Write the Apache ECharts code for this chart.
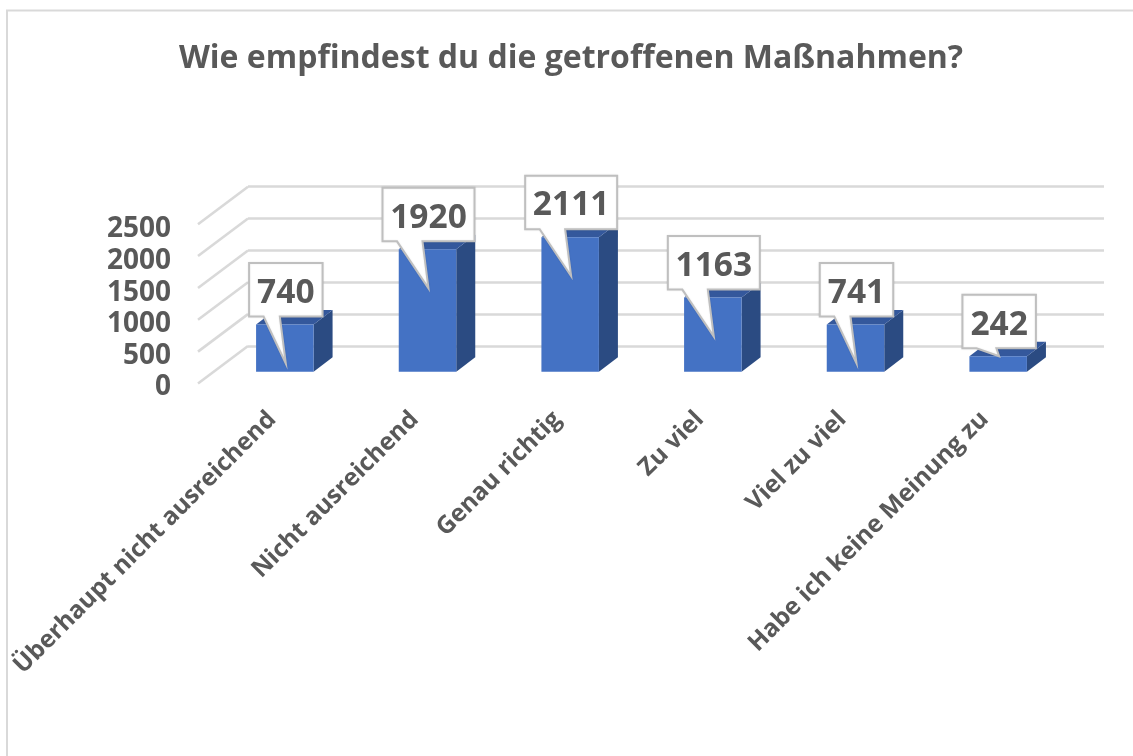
<!DOCTYPE html>
<html>
<head>
<meta charset="utf-8">
<title>Maßnahmen</title>
<script src="https://cdn.jsdelivr.net/npm/echarts@6/dist/echarts.min.js"></script>
<style>
  html, body { margin: 0; padding: 0; background: #fff; }
  #chart { width: 1133px; height: 756px; }
</style>
</head>
<body>
<div id="chart"></div>
<script>
const categories = ['Überhaupt nicht ausreichend', 'Nicht ausreichend', 'Genau richtig', 'Zu viel', 'Viel zu viel', 'Habe ich keine Meinung zu']
const answers = [740, 1920, 2111, 1163, 741, 242]
const yTicks = [0, 500, 1000, 1500, 2000, 2500]

const textColor = '#595959'
const fontFamily = '"Open Sans", sans-serif'

// fake 3d, everything is shifted from the back wall towards the viewer
const wallDx = -50
const wallDy = 37.5
const barFront = { dx: -34.5, dy: 25.7 }
const barBack = { dx: -15.5, dy: 11.2 }
const barWidth = 57.5

function renderWall(params, api) {
  const p = api.coord([0, api.value(0)])
  const left = params.coordSys.x
  return {
    type: 'line',
    silent: true,
    shape: { x1: left, y1: p[1], x2: left + wallDx, y2: p[1] + wallDy },
    style: { stroke: '#d9d9d9', lineWidth: 2.6 }
  }
}

function renderBar(params, api) {
  const top = api.coord([api.value(0), api.value(1)])
  const base = api.coord([api.value(0), 0])
  const x = base[0] + barFront.dx - barWidth / 2
  const yTop = top[1] + barFront.dy
  const yBase = base[1] + barFront.dy
  const sx = barBack.dx - barFront.dx
  const sy = barBack.dy - barFront.dy
  return {
    type: 'group',
    children: [
      {
        type: 'polygon',
        shape: { points: [[x + barWidth, yTop], [x + barWidth + sx, yTop + sy], [x + barWidth + sx, yBase + sy], [x + barWidth, yBase]] },
        style: { fill: '#2b4b82' }
      },
      {
        type: 'polygon',
        shape: { points: [[x, yTop], [x + sx, yTop + sy], [x + barWidth + sx, yTop + sy], [x + barWidth, yTop]] },
        style: { fill: '#34589c' }
      },
      {
        type: 'rect',
        shape: { x: x, y: yTop, width: barWidth, height: yBase - yTop },
        style: { fill: '#4472c4' }
      }
    ]
  }
}

function renderCallout(params, api) {
  const val = api.value(1)
  const top = api.coord([api.value(0), val])
  const cx = top[0] + barFront.dx + 1
  const yTop = top[1] + barFront.dy
  const label = String(val)
  const w = label.length > 3 ? 92 : 73.5
  const h = 53.5
  const l = cx - w / 2
  const r = cx + w / 2
  const b = yTop - 8
  const t = b - h
  // small bars get a short tail
  const tipY = val < 500 ? yTop : yTop + 39
  const tail0 = val < 500 ? l + 14 : l + 14.5
  const tail1 = val < 500 ? l + 34 : cx - 6
  return {
    type: 'group',
    children: [
      {
        type: 'polygon',
        shape: { points: [[l, t], [r, t], [r, b], [tail1, b], [cx, tipY], [tail0, b], [l, b]] },
        style: { fill: '#fff', stroke: '#bfbfbf', lineWidth: 2, shadowColor: 'rgba(0,0,0,0.08)', shadowBlur: 2 }
      },
      {
        type: 'text',
        style: {
          x: cx, y: (t + b) / 2 + 3.5,
          text: label,
          align: 'center',
          verticalAlign: 'middle',
          fill: textColor,
          font: 'bold 33.5px ' + fontFamily
        }
      }
    ]
  }
}

const chart = echarts.init(document.getElementById('chart'), null, { renderer: 'canvas' })

chart.setOption({
  animation: false,
  backgroundColor: '#fff',
  title: {
    text: 'Wie empfindest du die getroffenen Maßnahmen?',
    left: 566,
    top: 38,
    textAlign: 'center',
    textStyle: { color: textColor, fontFamily: fontFamily, fontWeight: 'bold', fontSize: 32 }
  },
  graphic: [
    {
      type: 'polyline',
      silent: true,
      shape: { points: [[7, 756], [7, 10.5], [1133, 10.5]] },
      style: { stroke: '#d9d9d9', lineWidth: 2, fill: 'none' }
    }
  ],
  grid: [
    // back wall, marks live here
    { left: 248, right: 29, top: 186.7, height: 159.3 },
    // front edge of the floor, only for the labels
    { left: 201, right: 77, top: 229.5, height: 158 }
  ],
  xAxis: [
    {
      type: 'category',
      gridIndex: 0,
      data: categories,
      axisLine: { show: false },
      axisTick: { show: false },
      axisLabel: { show: false }
    },
    {
      type: 'category',
      gridIndex: 1,
      data: categories,
      axisLine: { show: false },
      axisTick: { show: false },
      axisLabel: {
        interval: 0,
        rotate: 45,
        margin: 28,
        color: textColor,
        fontFamily: fontFamily,
        fontWeight: 'bold',
        fontSize: 24.5
      }
    }
  ],
  yAxis: [
    {
      type: 'value',
      gridIndex: 0,
      min: 0,
      max: 2500,
      interval: 500,
      axisLine: { show: false },
      axisTick: { show: false },
      axisLabel: { show: false },
      splitLine: { lineStyle: { color: '#d9d9d9', width: 2.6 } }
    },
    {
      type: 'value',
      gridIndex: 1,
      min: 0,
      max: 2500,
      interval: 500,
      axisLine: { show: false },
      axisTick: { show: false },
      splitLine: { show: false },
      axisLabel: {
        margin: 30,
        formatter: function (v) { return String(v) },
        color: textColor,
        fontFamily: fontFamily,
        fontWeight: 'bold',
        fontSize: 28
      }
    }
  ],
  series: [
    {
      type: 'custom',
      xAxisIndex: 0,
      yAxisIndex: 0,
      silent: true,
      data: yTicks.map(function (v) { return [v] }),
      encode: { y: 0 },
      renderItem: renderWall,
      z: 1
    },
    {
      type: 'custom',
      xAxisIndex: 0,
      yAxisIndex: 0,
      silent: true,
      data: answers.map(function (v, i) { return [i, v] }),
      encode: { x: 0, y: 1 },
      renderItem: renderBar,
      z: 2
    },
    {
      type: 'custom',
      xAxisIndex: 0,
      yAxisIndex: 0,
      silent: true,
      data: answers.map(function (v, i) { return [i, v] }),
      encode: { x: 0, y: 1 },
      renderItem: renderCallout,
      z: 3
    }
  ]
})
</script>
</body>
</html>
